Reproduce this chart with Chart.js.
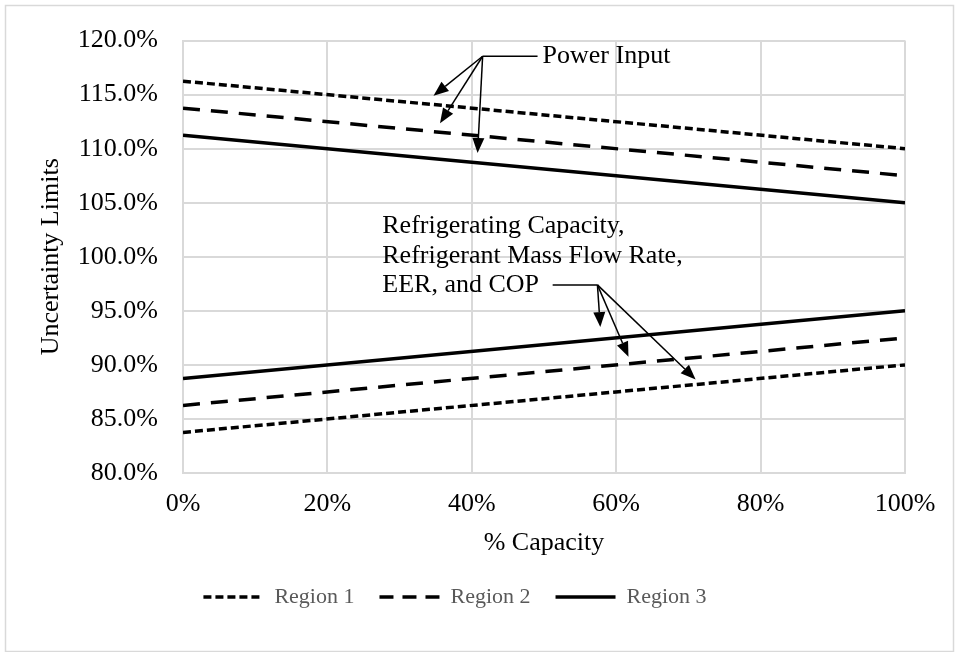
<!DOCTYPE html>
<html lang="en">

  <head>
    <meta charset="UTF-8">
    <title>Uncertainty Limits</title>
    <script src="https://cdn.jsdelivr.net/npm/chart.js@4.4.1/dist/chart.umd.min.js"></script>
    <style>
      body { margin: 0; background: #fff; }
      #chart { display: block; }
    </style>
  </head>

  <body>
    <canvas id="chart" width="956" height="652"></canvas>

    <script>
      // % capacity on the x axis, uncertainty limits (%) on the y axis
      const capacity = [0, 100]
      const region1Upper = [116.25, 110.0]
      const region2Upper = [113.75, 107.5]
      const region3Upper = [111.25, 105.0]
      const region1Lower = [83.75, 90.0]
      const region2Lower = [86.25, 92.5]
      const region3Lower = [88.75, 95.0]

      const regionNames = ['Region 1', 'Region 2', 'Region 3']
      const regionDash = [[8, 4], [17, 11], []]
      const legendDash = [[8, 4], [14, 9], []]

      const serif = 'Liberation Serif'
      const grey = '#d9d9d9'

      const toPoints = ys => ys.map((y, i) => ({ x: capacity[i], y }))

      function lineSet(label, ys, region) {
        return {
          label,
          data: toPoints(ys),
          borderColor: '#000',
          backgroundColor: '#000',
          borderWidth: 3.5,
          borderDash: regionDash[region],
          borderCapStyle: 'butt',
          pointRadius: 0,
          pointHoverRadius: 0,
          fill: false,
          tension: 0,
        }
      }

      // callouts, anchored in data units (x: % capacity, y: %)
      const powerNote = {
        lines: ['Power Input'],
        textAt: [49.8, 118.55],
        barFrom: [41.5, 118.55],
        tips: [[34.7, 114.9], [35.6, 112.35], [40.8, 109.6]],
      }
      const capacityNote = {
        lines: ['Refrigerating Capacity,', 'Refrigerant Mass Flow Rate,', 'EER, and COP'],
        textAt: [27.6, 102.8],
        barStart: [51.2, 97.4],
        barFrom: [57.4, 97.4],
        tips: [[57.8, 93.5], [61.7, 90.75], [71.0, 88.66]],
      }

      function arrow(ctx, x1, y1, x2, y2) {
        const ang = Math.atan2(y2 - y1, x2 - x1)
        const len = 15
        const half = 6
        const bx = x2 - Math.cos(ang) * len
        const by = y2 - Math.sin(ang) * len
        ctx.beginPath()
        ctx.moveTo(x1, y1)
        ctx.lineTo(bx, by)
        ctx.stroke()
        ctx.beginPath()
        ctx.moveTo(x2, y2)
        ctx.lineTo(bx + Math.sin(ang) * half, by - Math.cos(ang) * half)
        ctx.lineTo(bx - Math.sin(ang) * half, by + Math.cos(ang) * half)
        ctx.closePath()
        ctx.fill()
      }

      const frame = {
        id: 'frame',
        beforeDraw(chart) {
          const { ctx, width, height } = chart
          ctx.save()
          ctx.fillStyle = '#fff'
          ctx.fillRect(0, 0, width, height)
          ctx.strokeStyle = grey
          ctx.lineWidth = 1.5
          ctx.strokeRect(5.5, 5.5, width - 8, height - 6)
          ctx.restore()
        }
      }

      const callouts = {
        id: 'callouts',
        afterDraw(chart) {
          const { ctx, scales: { x, y } } = chart
          const px = p => [x.getPixelForValue(p[0]), y.getPixelForValue(p[1])]
          ctx.save()
          ctx.strokeStyle = '#000'
          ctx.fillStyle = '#000'
          ctx.lineWidth = 1.5
          ctx.font = `26px "${serif}"`
          ctx.textBaseline = 'middle'

          // Power Input
          let [ox, oy] = px(powerNote.barFrom)
          let [tx, ty] = px(powerNote.textAt)
          ctx.beginPath()
          ctx.moveTo(ox, oy)
          ctx.lineTo(tx - 5, oy)
          ctx.stroke()
          for (const t of powerNote.tips) {
            const [ax, ay] = px(t)
            arrow(ctx, ox, oy, ax, ay)
          }
          ctx.fillText(powerNote.lines[0], tx, ty)

          // Capacity group
          ;[tx, ty] = px(capacityNote.textAt)
          capacityNote.lines.forEach((s, i) => ctx.fillText(s, tx, ty + i * 29.5))
          ;[ox, oy] = px(capacityNote.barFrom)
          const [sx] = px(capacityNote.barStart)
          ctx.beginPath()
          ctx.moveTo(sx, oy)
          ctx.lineTo(ox, oy)
          ctx.stroke()
          for (const t of capacityNote.tips) {
            const [ax, ay] = px(t)
            arrow(ctx, ox, oy, ax, ay)
          }
          ctx.restore()
        }
      }

      const datasets = [
        lineSet(regionNames[0], region1Upper, 0),
        lineSet(regionNames[1], region2Upper, 1),
        lineSet(regionNames[2], region3Upper, 2),
        lineSet(regionNames[0] + ' lower', region1Lower, 0),
        lineSet(regionNames[1] + ' lower', region2Lower, 1),
        lineSet(regionNames[2] + ' lower', region3Lower, 2),
      ]

      const chart = new Chart(document.getElementById('chart'), {
        type: 'line',
        data: { datasets },
        plugins: [frame, callouts],
        options: {
          responsive: false,
          animation: false,
          devicePixelRatio: 1,
          layout: { padding: { left: 5, right: 51, top: 34, bottom: 34 } },
          plugins: {
            tooltip: { enabled: false },
            legend: {
              position: 'bottom',
              labels: {
                usePointStyle: true,
                pointStyleWidth: 60,
                padding: 25,
                color: '#595959',
                font: { family: serif, size: 22 },
                generateLabels: () => regionNames.map((name, i) => ({
                  text: name,
                  datasetIndex: i,
                  pointStyle: 'line',
                  strokeStyle: '#000',
                  fillStyle: '#000',
                  fontColor: '#595959',
                  lineWidth: 3.5,
                  lineDash: legendDash[i],
                  hidden: false,
                })),
              },
            },
          },
          scales: {
            x: {
              type: 'linear',
              min: 0,
              max: 100,
              afterFit: s => { s.height = 88 },
              ticks: {
                stepSize: 20,
                padding: 16,
                color: '#000',
                font: { family: serif, size: 26 },
                callback: v => v + '%',
              },
              grid: { color: grey, lineWidth: 2, drawTicks: false },
              border: { color: grey, width: 2 },
              title: {
                display: true,
                text: '% Capacity',
                color: '#000',
                font: { family: serif, size: 26 },
                padding: { top: 0, bottom: 2.4 },
              },
            },
            y: {
              min: 80,
              max: 120,
              afterFit: s => { s.width = 178 },
              ticks: {
                stepSize: 5,
                padding: 25,
                color: '#000',
                font: { family: serif, size: 26 },
                callback: v => v.toFixed(1) + '%',
              },
              grid: { color: grey, lineWidth: 2, drawTicks: false },
              border: { color: grey, width: 2 },
              title: {
                display: true,
                text: 'Uncertainty Limits',
                color: '#000',
                font: { family: serif, size: 26 },
                padding: { top: 31, bottom: 0 },
              },
            },
          },
        },
      })
    </script>
  </body>

</html>
